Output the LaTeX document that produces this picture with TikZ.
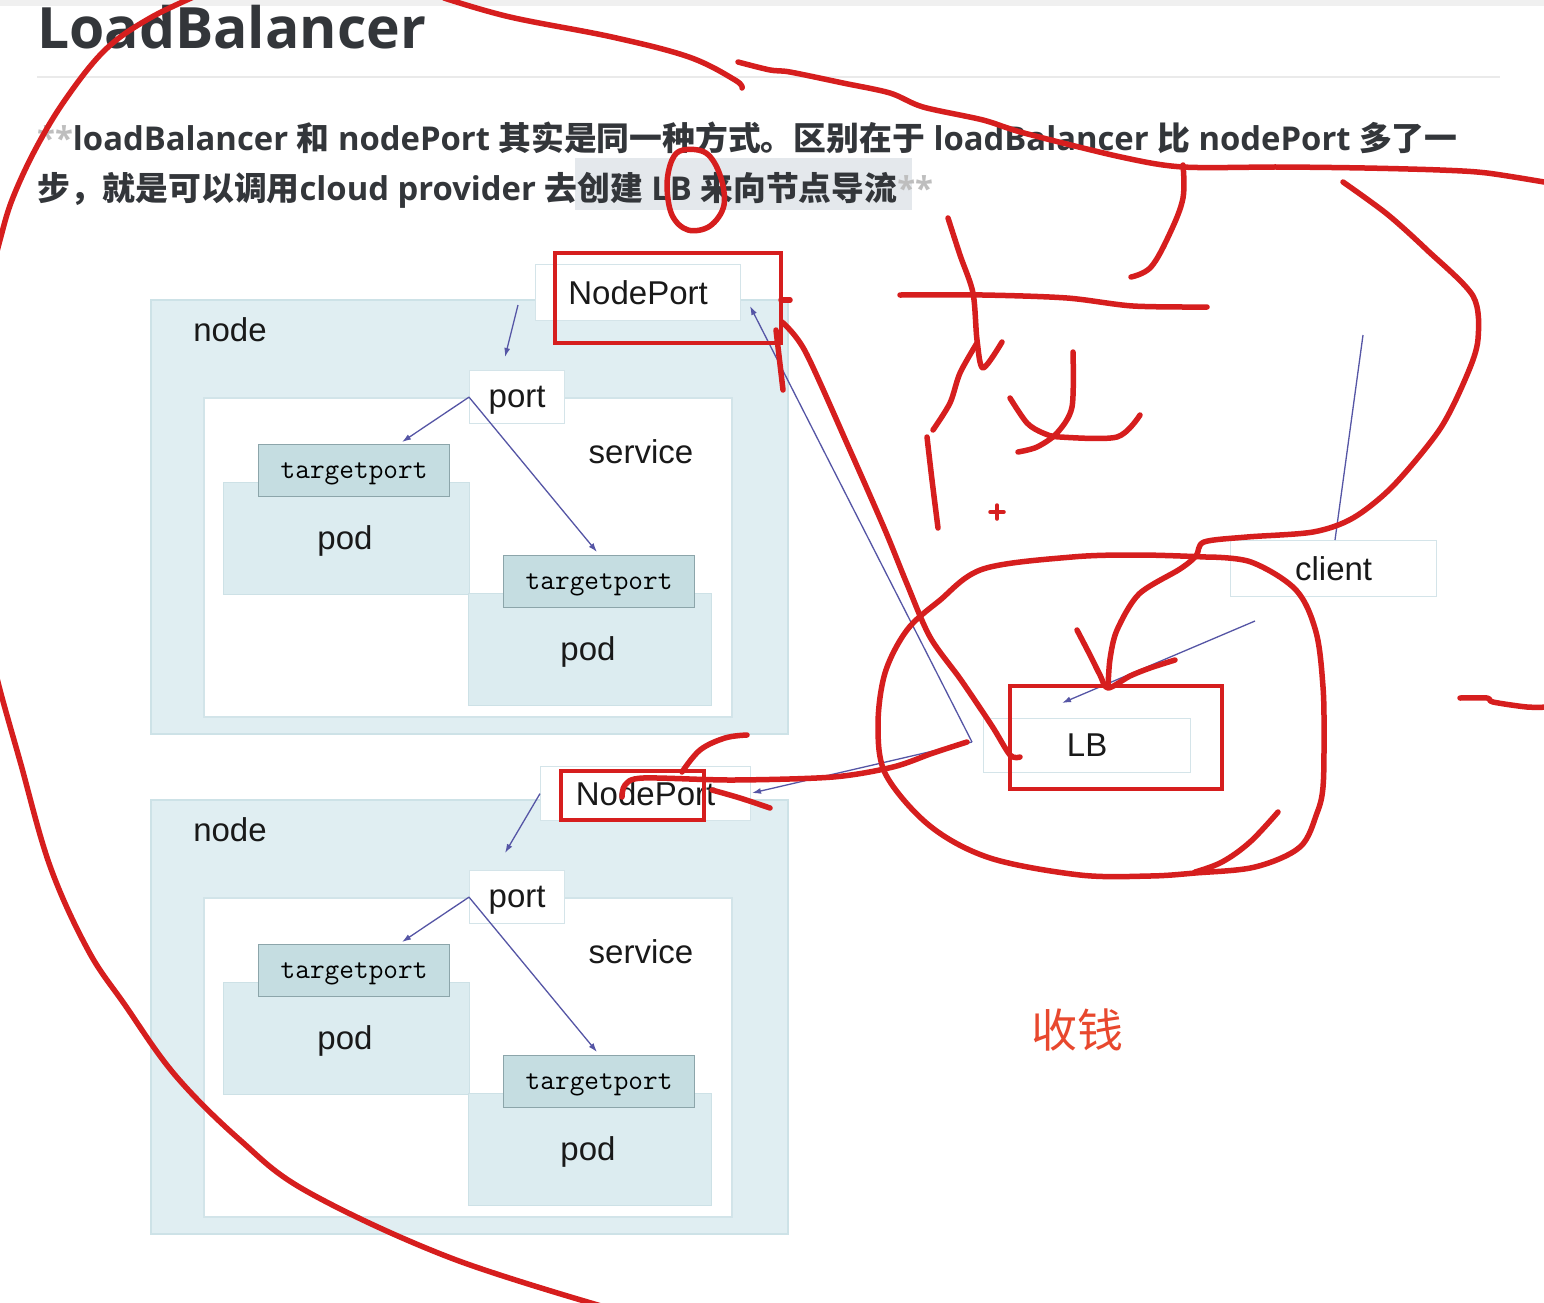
\documentclass[tikz,border=0pt]{standalone}
\usepackage{fontspec}
\setmainfont{Open Sans}
\newfontfamily\cjk{Noto Sans CJK SC}
\newfontfamily\arialf{Liberation Sans}
\usetikzlibrary{arrows.meta}
\definecolor{textdark}{RGB}{51,54,58}
\definecolor{stargray}{RGB}{190,190,190}
\definecolor{hlgray}{RGB}{228,232,236}
\definecolor{rulegray}{RGB}{234,234,234}
\definecolor{topgray}{RGB}{240,240,240}
\definecolor{nodefill}{RGB}{224,238,242}
\definecolor{nodeborder}{RGB}{205,226,231}
\definecolor{svcborder}{RGB}{210,228,233}
\definecolor{podfill}{RGB}{220,236,240}
\definecolor{podborder}{RGB}{205,225,230}
\definecolor{tpfill}{RGB}{197,221,225}
\definecolor{tpborder}{RGB}{140,165,170}
\definecolor{wborder}{RGB}{212,228,233}
\definecolor{arrowblue}{RGB}{85,85,165}
\definecolor{penred}{RGB}{214,30,30}
\definecolor{moneyred}{RGB}{232,72,46}
\tikzset{
  nodebox/.style={draw=nodeborder, fill=nodefill, line width=1.5pt, inner sep=0pt},
  svcbox/.style={draw=svcborder, fill=white, line width=1.5pt, inner sep=0pt},
  podbox/.style={draw=podborder, fill=podfill, line width=1.2pt, inner sep=0pt},
  tpbox/.style={draw=tpborder, fill=tpfill, line width=1.2pt, inner sep=0pt, text depth=0pt, font=\fontsize{28.5}{30}\ttfamily, text=black},
  wbox/.style={draw=wborder, fill=white, line width=1.2pt, inner sep=0pt},
  lbl/.style={inner sep=0pt, font=\arialf\fontsize{33}{36}\selectfont, text=black!90},
  barrow/.style={draw=arrowblue, line width=1.3pt, -{Latex[length=9pt,width=6pt]}},
  bline/.style={draw=arrowblue, line width=1.3pt},
  pen/.style={draw=penred, line width=5.5pt, line cap=round, line join=round},
  redbox/.style={draw=penred, line width=4.5pt},
}
\begin{document}
\begin{tikzpicture}[x=1pt,y=-1pt]
\useasboundingbox (0,0) rectangle (1544,1302);
\clip (0,0) rectangle (1544,1302);
\fill[white] (0,0) rectangle (1544,1302);
\fill[topgray] (0,0) rectangle (1544,6);
% heading
\node[anchor=base west, inner sep=0pt, font=\fontsize{57}{60}\selectfont\bfseries, text=textdark] (title) at (37,48) {LoadBalancer};
\draw[rulegray, line width=1.5pt] (37,77) -- (1500,77);
\fill[hlgray] (575,158) rectangle (912,210);
\node[anchor=base west, inner sep=0pt, font=\fontsize{32.8}{36}\selectfont\bfseries, text=textdark] (line1) at (37,150)
  {{\color{stargray}**}loadBalancer {\cjk 和} nodePort {\cjk 其实是同一种方式。区别在于} loadBalancer {\cjk 比} nodePort {\cjk 多了一}};
\node[anchor=base west, inner sep=0pt, font=\fontsize{32.8}{36}\selectfont\bfseries, text=textdark] (line2) at (37,200)
  {{\cjk 步，就是可以调用}cloud provider {\cjk 去创建} LB {\cjk 来向节点导流}{\color{stargray}**}};
% the two nodes
\foreach \k/\dy in {1/0,2/500}{
  \node[nodebox, anchor=north west, minimum width=637pt, minimum height=434pt] (node\k) at (150,299+\dy) {};
  \node[svcbox, anchor=north west, minimum width=528pt, minimum height=319pt] (svc\k) at (203,397+\dy) {};
  \node[lbl] (nodelbl\k) at (230,330+\dy) {node};
  \node[lbl] (svclbl\k) at (641,452+\dy) {service};
  \node[podbox, anchor=north west, minimum width=246pt, minimum height=112pt] (poda\k) at (223,482+\dy) {};
  \node[lbl] (podalbl\k) at (345,541+\dy) {pod};
  \node[podbox, anchor=north west, minimum width=243pt, minimum height=112pt] (podb\k) at (468,593+\dy) {};
  \node[lbl] (podblbl\k) at (588,652+\dy) {pod};
  \node[tpbox, anchor=north west, minimum width=191pt, minimum height=52pt] (tpa\k) at (258,444+\dy) {targetport};
  \node[tpbox, anchor=north west, minimum width=191pt, minimum height=52pt] (tpb\k) at (503,555+\dy) {targetport};
  \node[wbox, lbl, text depth=0pt, anchor=north west, minimum width=95pt, minimum height=53pt] (port\k) at (469,370+\dy) {port};
  \coordinate (tpaend\k) at (402,442+\dy);
  \coordinate (tpbend\k) at (597,552+\dy);
  \draw[barrow] (port\k.west) -- (tpaend\k);
  \draw[barrow] (port\k.west) -- (tpbend\k);
}
\node[wbox, lbl, anchor=north west, minimum width=205pt, minimum height=56pt] (np1) at (535,264) {NodePort};
\node[wbox, lbl, anchor=north west, minimum width=210pt, minimum height=54pt] (np2) at (540,766) {NodePort};
\node[wbox, lbl, anchor=north west, minimum width=207pt, minimum height=54pt] (lb) at (983,718) {LB};
\node[wbox, lbl, anchor=north west, minimum width=206pt, minimum height=56pt] (client) at (1230,540) {client};
% blue connectors
\coordinate (np1out) at (518,305);
\coordinate (port1in) at (505,357);
\coordinate (port2in) at (505,853);
\coordinate (np1in) at (750,306);
\coordinate (np2in) at (752,793);
\coordinate (lbj) at (972,742);
\coordinate (lbin) at (1062,703);
\coordinate (clout) at (1255,621);
\coordinate (cltop) at (1363,335);
\coordinate (clin) at (1335,540);
\draw[barrow] (np1out) -- (port1in);
\draw[barrow] (np2.west) -- (port2in);
\draw[barrow] (lbj) -- (np1in);
\draw[barrow] (lbj) -- (np2in);
\draw[barrow] (clout) -- (lbin);
\draw[bline] (cltop) -- (clin);
% money
\node[inner sep=0pt, font=\cjk\fontsize{46}{50}\selectfont, text=moneyred] (money) at (1077,1030) {收钱};
% red marks
\draw[redbox] (555,253) rectangle (781,343);
\draw[redbox] (1010,686) rectangle (1222,789);
\draw[redbox] (561,771) rectangle (704,820);
% big outer curve
\draw[pen] plot[smooth, tension=0.6] coordinates {(205,-8) (150,18) (105,50) (65,100) (35,150) (12,200) (0,240) (-10,280)};
\draw[pen] plot[smooth, tension=0.6] coordinates {(-12,640) (0,690) (20,761) (50,866) (88,950) (125,1005) (175,1075) (240,1140) (308,1192) (451,1258) (615,1310)};
\draw[pen] plot[smooth, tension=0.6] coordinates {(444,-2) (510,17) (612,37) (689,57) (735,80) (742,88)};
\draw[pen] plot[smooth, tension=0.5] coordinates {(738,62) (770,70) (790,72) (843,83) (890,93) (923,107) (983,120) (1024,133) (1121,157) (1183,167) (1280,167) (1365,168) (1440,170) (1487,173) (1550,183)};
\draw[pen] plot[smooth, tension=0.6] coordinates {(1183,165) (1183,198) (1170,233) (1151,267) (1131,277)};
\draw[pen] plot[smooth, tension=0.5] coordinates {(1343,182) (1387,214) (1427,250) (1473,296) (1478,339) (1467,375) (1440,429) (1393,486) (1353,518) (1313,532) (1247,537) (1204,542) (1196,556) (1180,569) (1139,594) (1117,630) (1110,659) (1108,687)};
\draw[pen] plot[smooth, tension=0.5] coordinates {(1077,630) (1090,655) (1100,675) (1108,688) (1130,676) (1150,668) (1175,660)};
% circle around LB
\draw[pen] plot[smooth, tension=0.55] coordinates {(1206,557) (1140,555) (1072,557) (983,569) (939,601) (907,630) (885,673) (878,726) (886,775) (930,826) (990,858) (1080,875) (1150,876) (1195,873) (1255,867) (1300,847) (1317,813) (1323,787) (1324,737) (1323,687) (1316,632) (1296,590) (1251,562) (1206,557)};
\draw[pen] plot[smooth, tension=0.6] coordinates {(1278,812) (1250,842) (1222,862) (1195,872)};
% from upper NodePort to LB
\draw[pen] plot[smooth, tension=0.5] coordinates {(782,322) (805,351) (849,448) (885,530) (907,584) (930,637) (961,680) (992,726) (1010,755) (1020,757)};
\draw[pen] (776,330) -- (783,390);
\draw[pen] (781,300) -- (790,300);
% arrow to lower NodePort
\draw[pen] plot[smooth, tension=0.5] coordinates {(967,742) (933,753) (893,767) (833,777) (733,780) (643,778) (625,785) (622,797)};
\draw[pen] plot[smooth, tension=0.6] coordinates {(682,772) (700,750) (725,738) (747,735)};
\draw[pen] plot[smooth, tension=0.6] coordinates {(712,790) (740,798) (770,808)};
% handwritten strokes
\draw[pen] plot[smooth, tension=0.5] coordinates {(948,218) (960,255) (973,293) (977,340) (983,368) (1002,342)};
\draw[pen] plot[smooth, tension=0.5] coordinates {(977,343) (960,373) (950,403) (933,430)};
\draw[pen] plot[smooth, tension=0.5] coordinates {(927,437) (932,480) (938,528)};
\draw[pen] plot[smooth, tension=0.5] coordinates {(900,295) (983,295) (1067,298) (1133,306) (1207,307)};
\draw[pen] plot[smooth, tension=0.5] coordinates {(1073,352) (1072,407) (1057,433) (1037,447) (1018,452)};
\draw[pen] plot[smooth, tension=0.5] coordinates {(1010,398) (1027,423) (1043,433) (1060,437) (1117,437) (1140,415)};
\draw[pen, line width=3.5pt] (990,512) -- (1004,512) (997,505) -- (997,519);
% loop on LB in the text
\draw[pen] plot[smooth cycle, tension=0.6] coordinates {(683,150) (706,153) (720,175) (724,205) (710,226) (688,230) (672,215) (667,185) (672,160)};
% right edge stroke
\draw[pen] plot[smooth, tension=0.5] coordinates {(1460,698) (1487,698) (1493,702) (1527,707) (1550,707)};
\end{tikzpicture}
\end{document}
